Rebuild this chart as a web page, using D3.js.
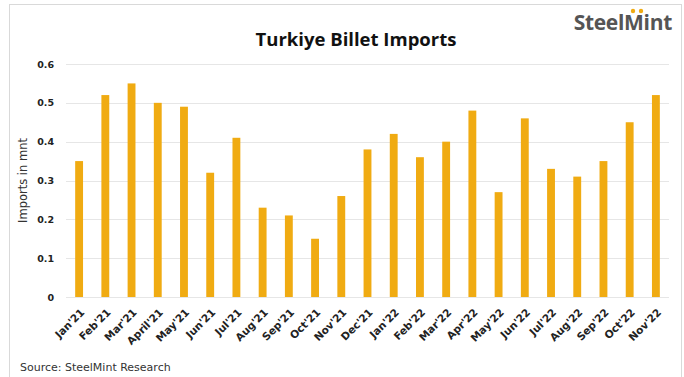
<!DOCTYPE html>
<html>
<head>
<meta charset="utf-8">
<style>
  body { margin: 0; background: #fff; }
  svg { display: block; font-family: "DejaVu Sans", "Open Sans", sans-serif; }
</style>
</head>
<body>
<div id="chart"></div>
<script src="https://cdn.jsdelivr.net/npm/d3@7"></script>
<script>
// data
const months = ["Jan'21","Feb'21","Mar'21","April'21","May'21","Jun'21","Jul'21","Aug'21","Sep'21","Oct'21","Nov'21","Dec'21",
                "Jan'22","Feb'22","Mar'22","Apr'22","May'22","Jun'22","Jul'22","Aug'22","Sep'22","Oct'22","Nov'22"]
const imports = [0.35,0.52,0.55,0.50,0.49,0.32,0.41,0.23,0.21,0.15,0.26,0.38,
                 0.42,0.36,0.40,0.48,0.27,0.46,0.33,0.31,0.35,0.45,0.52]
const yTicks = [0, 0.1, 0.2, 0.3, 0.4, 0.5, 0.6]

const width = 684, height = 377
const margin = {top: 64, right: 15, bottom: 80, left: 66}

const svg = d3.select("#chart").append("svg")
    .attr("width", width)
    .attr("height", height)

// frame
svg.append("rect")
    .attr("x", 9.5).attr("y", 4.5)
    .attr("width", 672).attr("height", 380)
    .attr("fill", "none").attr("stroke", "#d9d9d9")

const x = d3.scaleBand()
    .domain(months)
    .range([margin.left, width - margin.right])
    .paddingInner(0.7)
    .paddingOuter(0.35)

const y = d3.scaleLinear()
    .domain([0, 0.6])
    .range([height - margin.bottom, margin.top])

// gridlines
svg.append("g")
  .selectAll("line")
  .data(yTicks)
  .join("line")
    .attr("x1", margin.left).attr("x2", width - margin.right)
    .attr("y1", d => Math.round(y(d)) + 0.5).attr("y2", d => Math.round(y(d)) + 0.5)
    .attr("stroke", "#e6e6e6")

// y axis labels
svg.append("g")
  .selectAll("text")
  .data(yTicks)
  .join("text")
    .attr("x", 54).attr("y", d => y(d) + 3.5)
    .attr("text-anchor", "end")
    .attr("font-size", 9.5).attr("font-weight", "bold").attr("fill", "#222")
    .text(d => d === 0 ? "0" : d3.format(".1f")(d))

svg.append("text")
    .attr("transform", `translate(27,${(y(0) + y(0.6)) / 2}) rotate(-90)`)
    .attr("text-anchor", "middle")
    .attr("font-size", 11.5).attr("fill", "#333")
    .text("Imports in mnt")

// bars
svg.append("g")
  .selectAll("rect")
  .data(imports)
  .join("rect")
    .attr("x", (d, i) => x(months[i]))
    .attr("y", d => y(d))
    .attr("width", x.bandwidth())
    .attr("height", d => y(0) - y(d))
    .attr("fill", "#F0AB12")

// x labels
svg.append("g")
  .selectAll("text")
  .data(months)
  .join("text")
    .attr("transform", d => `translate(${x(d) + x.bandwidth() / 2 + 6},${y(0) + 16}) rotate(-45)`)
    .attr("text-anchor", "end")
    .attr("font-size", 10.5).attr("font-weight", "bold").attr("fill", "#222")
    .text(d => d)

// title
svg.append("text")
    .attr("x", 356).attr("y", 46)
    .attr("text-anchor", "middle")
    .attr("font-family", "Open Sans, sans-serif")
    .attr("font-size", 18.5).attr("font-weight", "bold").attr("fill", "#111")
    .text("Turkiye Billet Imports")

// source
svg.append("text")
    .attr("x", 20).attr("y", 371)
    .attr("font-size", 11).attr("fill", "#333")
    .text("Source:  SteelMint Research")

// logo
svg.append("text")
    .attr("x", 672).attr("y", 30)
    .attr("text-anchor", "end")
    .attr("font-family", "Open Sans, sans-serif")
    .attr("font-size", 21).attr("font-weight", "bold").attr("fill", "#555")
    .attr("letter-spacing", -0.3)
    .text("SteelMint")
svg.append("g")
  .selectAll("circle")
  .data([633, 641])
  .join("circle")
    .attr("cx", d => d).attr("cy", 11)
    .attr("r", 2.2).attr("fill", "#F0AB12")
</script>
</body>
</html>
